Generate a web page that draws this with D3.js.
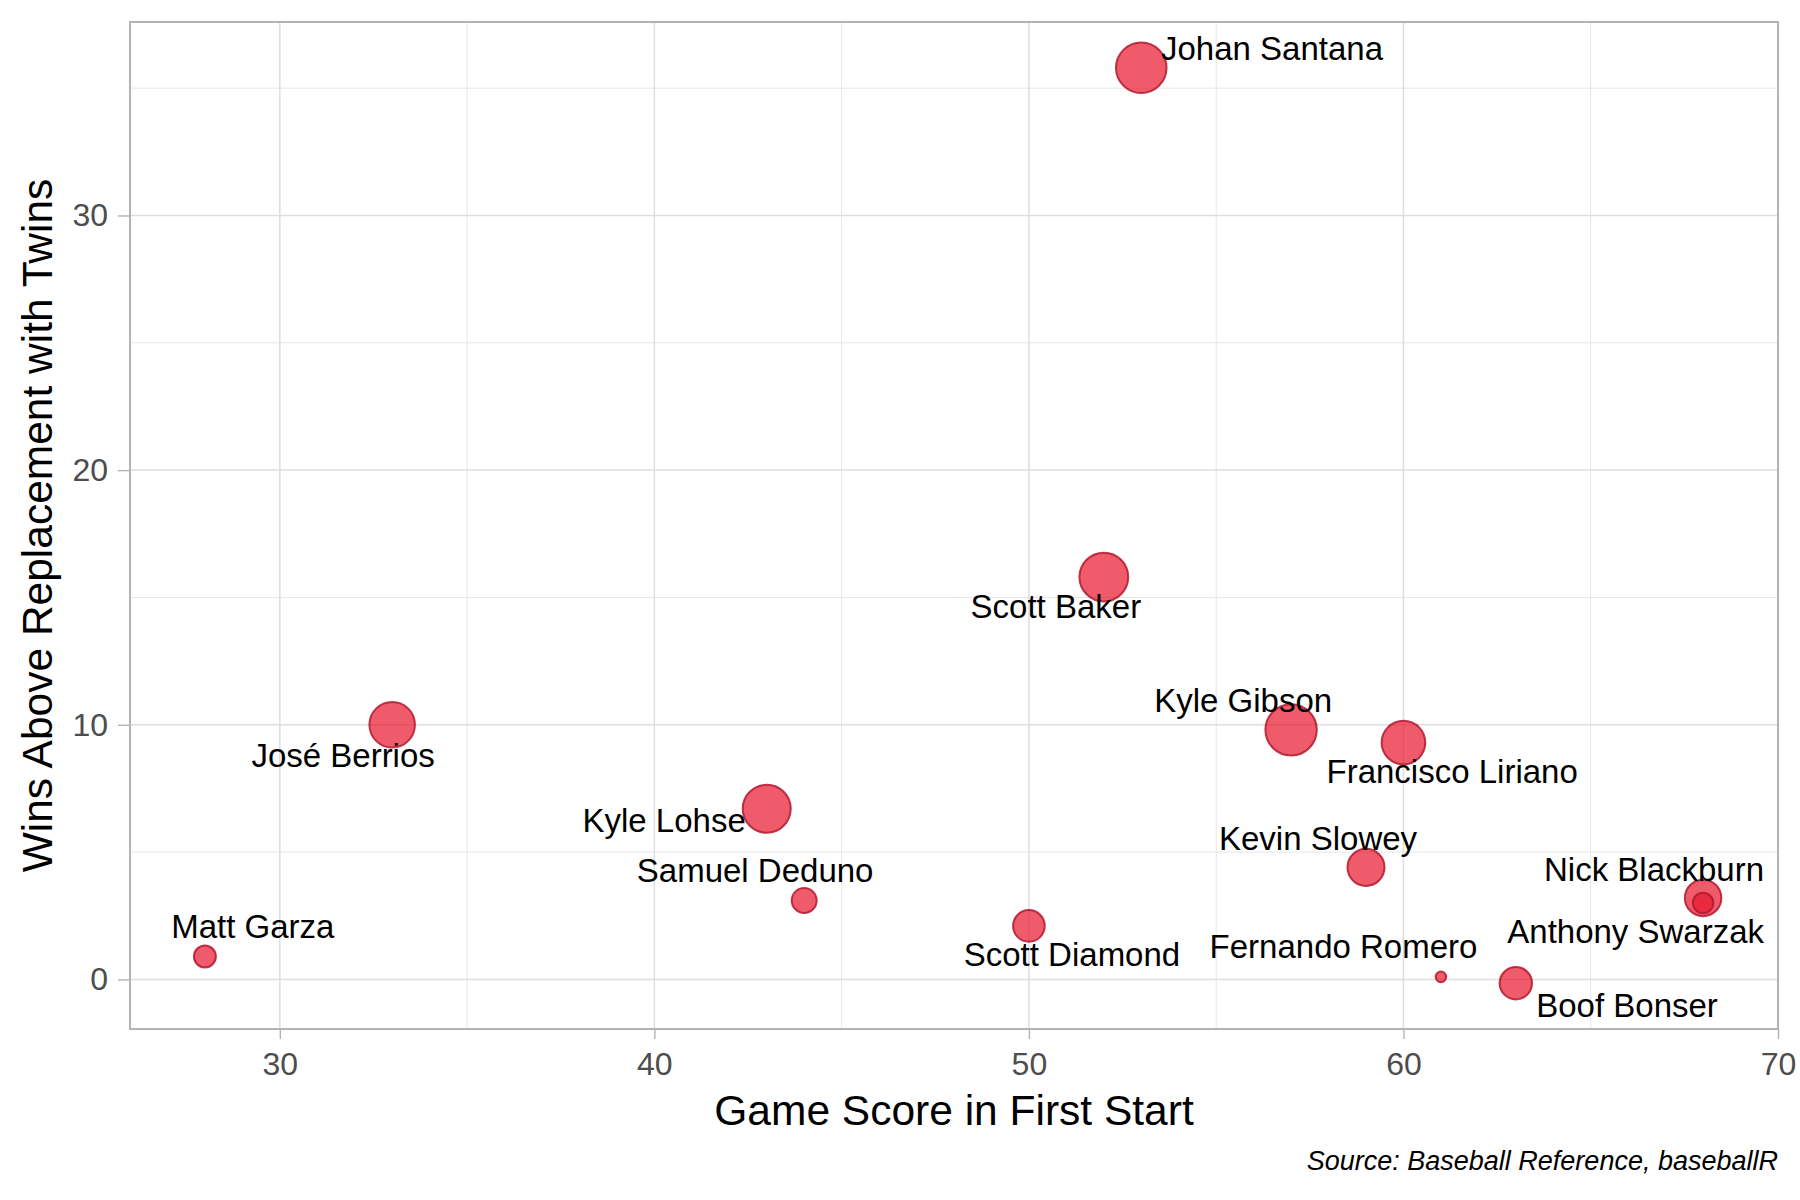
<!DOCTYPE html>
<html>
<head>
<meta charset="utf-8">
<style>
	body { margin: 0; background: white; }
	svg text { font-family: "Liberation Sans", Arial, sans-serif; }
	.tick line { stroke: #b3b3b3; stroke-width: 1.4px; }
	.tick text { fill: #4d4d4d; font-size: 32px; }
	.grid-major { stroke: #dedede; stroke-width: 1.5px; }
	.grid-minor { stroke: #e6e6e6; stroke-width: 1px; }
	.point {
		fill: #e8152c;
		fill-opacity: 0.7;
		stroke: #b3172d;
		stroke-opacity: 0.85;
		stroke-width: 2px;
	}
	.label { font-size: 33px; fill: black; text-anchor: middle; }
</style>
<script src="https://d3js.org/d3.v7.min.js"></script>
</head>
<body>
<script>
	// data
	var players = ["Johan Santana", "Scott Baker", "José Berrios", "Kyle Lohse", "Samuel Deduno",
		"Matt Garza", "Scott Diamond", "Kyle Gibson", "Francisco Liriano", "Kevin Slowey",
		"Nick Blackburn", "Anthony Swarzak", "Fernando Romero", "Boof Bonser"];
	var gameScore = [53, 52, 33, 43, 44, 28, 50, 57, 60, 59, 68, 68, 61, 63];
	var war = [35.8, 15.8, 10.0, 6.7, 3.1, 0.9, 2.1, 9.8, 9.3, 4.4, 3.2, 3.0, 0.1, -0.15];
	var starts = [173, 159, 135, 153, 32, 24, 56, 180, 122, 82, 79, 21, 11, 59];
	// where the repelled labels ended up (data units)
	var labelX = [56.49, 50.72, 31.69, 40.26, 42.69, 29.28, 51.15, 55.72, 61.30, 57.72, 66.69, 66.20, 58.40, 65.97];
	var labelY = [36.11, 14.19, 8.34, 5.78, 3.82, 1.62, 0.52, 10.50, 7.71, 5.08, 3.86, 1.42, 0.83, -1.48];

	var xTicks = [30, 40, 50, 60, 70],
		xMinor = [35, 45, 55, 65],
		yTicks = [0, 10, 20, 30],
		yMinor = [5, 15, 25, 35];

	function draw(){
		var width = 1800, height = 1200;
		var pLeft = 130, pRight = 1778, pTop = 22, pBottom = 1029;

		var data = players.map(function(p, i){
			return {name: p, x: gameScore[i], y: war[i], s: starts[i], lx: labelX[i], ly: labelY[i]};
		});

		function expand(ext){
			var pad = (ext[1] - ext[0]) * 0.05;
			return [ext[0] - pad, ext[1] + pad];
		}

		var x = d3.scaleLinear()
			.domain(expand(d3.extent(gameScore)))
			.range([pLeft, pRight]);
		var y = d3.scaleLinear()
			.domain(expand(d3.extent(war)))
			.range([pBottom, pTop]);
		var sExt = d3.extent(starts);
		var rScale = d3.scaleSqrt()
			.domain([0, sExt[1] - sExt[0]])
			.range([0, 20.4]);
		function radius(v){ return 5.3 + rScale(v - sExt[0]); }

		var svg = d3.select("body").append("svg")
			.attr("width", width)
			.attr("height", height);

		// grid
		var grid = svg.append("g");
		grid.selectAll(".vminor").data(xMinor).enter().append("line")
			.attr("class", "grid-minor")
			.attr("x1", x).attr("x2", x).attr("y1", pTop).attr("y2", pBottom);
		grid.selectAll(".hminor").data(yMinor).enter().append("line")
			.attr("class", "grid-minor")
			.attr("y1", y).attr("y2", y).attr("x1", pLeft).attr("x2", pRight);
		grid.selectAll(".vmajor").data(xTicks).enter().append("line")
			.attr("class", "grid-major")
			.attr("x1", x).attr("x2", x).attr("y1", pTop).attr("y2", pBottom);
		grid.selectAll(".hmajor").data(yTicks).enter().append("line")
			.attr("class", "grid-major")
			.attr("y1", y).attr("y2", y).attr("x1", pLeft).attr("x2", pRight);

		// points
		svg.append("g").selectAll("circle")
			.data(data)
			.enter()
			.append("circle")
			.attr("class", "point")
			.attr("cx", function(d){ return x(d.x); })
			.attr("cy", function(d){ return y(d.y); })
			.attr("r", function(d){ return radius(d.s); });

		// labels
		svg.append("g").selectAll("text")
			.data(data)
			.enter()
			.append("text")
			.attr("class", "label")
			.attr("x", function(d){ return x(d.lx); })
			.attr("y", function(d){ return y(d.ly); })
			.text(function(d){ return d.name; });

		// panel border
		svg.append("rect")
			.attr("x", pLeft).attr("y", pTop)
			.attr("width", pRight - pLeft).attr("height", pBottom - pTop)
			.attr("fill", "none")
			.attr("stroke", "#b3b3b3")
			.attr("stroke-width", 2);

		// axes
		var xAxis = d3.axisBottom(x).tickValues(xTicks).tickSize(10).tickPadding(13);
		svg.append("g")
			.attr("class", "x axis")
			.attr("transform", "translate(0," + pBottom + ")")
			.call(xAxis)
			.call(function(g){ g.select(".domain").remove(); });

		var yAxis = d3.axisLeft(y).tickValues(yTicks).tickSize(12).tickPadding(10);
		svg.append("g")
			.attr("class", "y axis")
			.attr("transform", "translate(" + pLeft + ",0)")
			.call(yAxis)
			.call(function(g){ g.select(".domain").remove(); });

		svg.selectAll(".axis").attr("font-family", null).attr("font-size", null);

		// titles
		svg.append("text")
			.attr("x", (pLeft + pRight) / 2)
			.attr("y", 1125)
			.attr("text-anchor", "middle")
			.attr("font-size", "42.5px")
			.text("Game Score in First Start");

		svg.append("text")
			.attr("transform", "translate(52," + ((pTop + pBottom) / 2) + ") rotate(-90)")
			.attr("text-anchor", "middle")
			.attr("font-size", "42.5px")
			.text("Wins Above Replacement with Twins");

		svg.append("text")
			.attr("x", pRight)
			.attr("y", 1170)
			.attr("text-anchor", "end")
			.attr("font-size", "27px")
			.attr("font-style", "italic")
			.text("Source: Baseball Reference, baseballR");
	}

	draw();
</script>
</body>
</html>
